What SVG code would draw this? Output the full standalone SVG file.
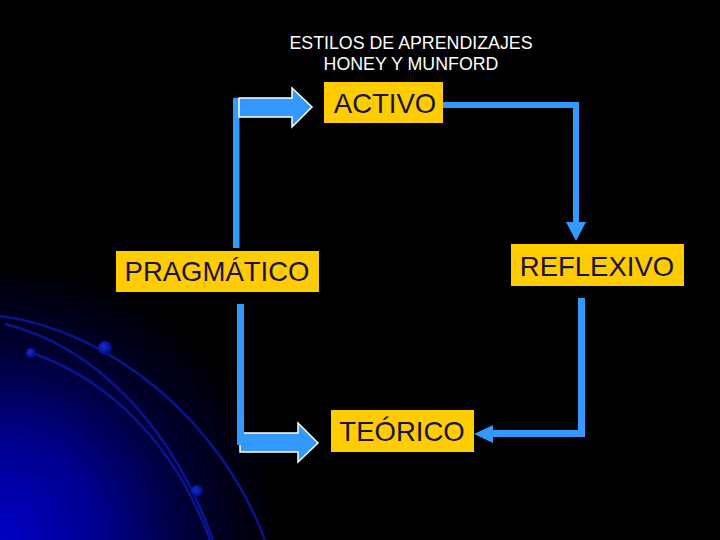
<svg xmlns="http://www.w3.org/2000/svg" width="720" height="540" viewBox="0 0 720 540">
<defs>
<radialGradient id="glow" cx="0" cy="540" r="280" gradientUnits="userSpaceOnUse">
<stop offset="0" stop-color="#0000c8"/>
<stop offset="0.35" stop-color="#000090"/>
<stop offset="0.7" stop-color="#000030"/>
<stop offset="1" stop-color="#000000"/>
</radialGradient>
<radialGradient id="dot" cx="0.4" cy="0.4" r="0.6">
<stop offset="0" stop-color="#1a2ad0"/>
<stop offset="1" stop-color="#000a80"/>
</radialGradient>
<style>
.box{fill:#ffcc00}
.lbl{font-family:"Liberation Sans",Arial,sans-serif;font-size:27.5px;fill:#1a1440;text-anchor:middle}
.title{font-family:"Liberation Sans",Arial,sans-serif;font-size:17.8px;fill:#ffffff;text-anchor:middle}
.bar{fill:#3399ff}
.block{fill:#3399ff;stroke:#ffffff;stroke-width:1.5}
.arc{fill:none;stroke:#0a1490;stroke-width:2.5}
</style>
</defs>
<rect x="0" y="0" width="720" height="540" fill="#000"/>
<rect x="0" y="250" width="300" height="290" fill="url(#glow)"/>
<g id="decor">
<path class="arc" d="M0,316 C110,330 220,420 265,540"/>
<path class="arc" d="M5,324 C90,345 170,420 213,540"/>
<path class="arc" d="M32,353 C110,380 175,445 210,540"/>
<circle cx="105" cy="348" r="7" fill="url(#dot)"/>
<circle cx="31" cy="353" r="5" fill="url(#dot)"/>
<circle cx="197" cy="491" r="6" fill="url(#dot)"/>
</g>
<g id="title">
<text class="title" x="411" y="49">ESTILOS DE APRENDIZAJES</text>
<text class="title" x="411" y="70">HONEY Y MUNFORD</text>
</g>
<g id="connectors">
<rect class="bar" x="233" y="98" width="6.5" height="150"/>
<polygon class="block" points="239,117 292,117 292,127 312,107 292,88 292,98 239,98"/>
<rect class="bar" x="443" y="102" width="136" height="6"/>
<rect class="bar" x="573" y="102" width="6" height="122"/>
<polygon class="bar" points="566,222 586,222 576,241"/>
<rect class="bar" x="578" y="298" width="7" height="139"/>
<rect class="bar" x="490" y="430" width="95" height="7"/>
<polygon class="bar" points="474,434 493,425 493,443"/>
<polygon class="block" points="240,433 298,433 298,423 318,443 298,462 298,452 240,452"/>
<rect class="bar" x="237" y="304" width="7" height="141"/>
</g>
<g id="activo">
<rect class="box" x="324" y="82" width="119" height="41"/>
<text class="lbl" x="385" y="113">ACTIVO</text>
</g>
<g id="reflexivo">
<rect class="box" x="511" y="244" width="173" height="42"/>
<text class="lbl" x="597" y="276">REFLEXIVO</text>
</g>
<g id="pragmatico">
<rect class="box" x="116" y="251" width="203" height="41"/>
<text class="lbl" x="217" y="281">PRAGMÁTICO</text>
</g>
<g id="teorico">
<rect class="box" x="331" y="410" width="143" height="42"/>
<text class="lbl" x="402" y="441">TEÓRICO</text>
</g>
</svg>
